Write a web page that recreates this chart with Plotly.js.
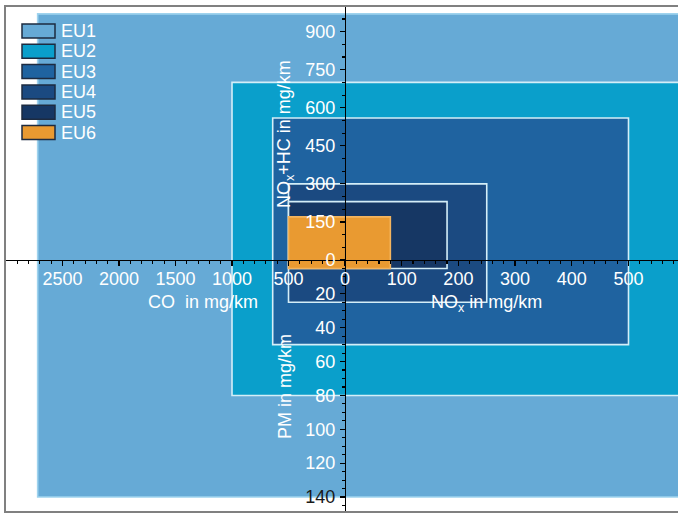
<!DOCTYPE html>
<html>
<head>
<meta charset="utf-8">
<script src="https://cdn.plot.ly/plotly-3.0.1.min.js"></script>
<style>
  html, body { margin: 0; padding: 0; background: #ffffff; }
  #chart { width: 678px; height: 514px; }
</style>
</head>
<body>
<div id="chart"></div>
<script>
// Euro emission stages for diesel passenger cars, limits in mg/km
const stages      = ['EU1', 'EU2', 'EU3', 'EU4', 'EU5', 'EU6'];
const coLimits    = [2720, 1000, 640, 500, 500, 500];   // CO
const noxLimits   = [null, null, 500, 250, 180, 80];    // NOx (no separate limit for EU1/EU2)
const hcNoxLimits = [970, 700, 560, 300, 230, 170];     // NOx + HC
const pmLimits    = [140, 80, 50, 25, 5, 5];            // PM

// tick labels for the four half-axes
const coTicks    = [500, 1000, 1500, 2000, 2500];
const noxTicks   = [0, 100, 200, 300, 400, 500];
const hcNoxTicks = [0, 150, 300, 450, 600, 750, 900];
const pmTicks    = [20, 40, 60, 80, 100, 120, 140];

const stageFill = ['#66aad6', '#0a9fcb', '#1f63a0', '#1b4a81', '#163764', '#e99a31'];
const stageEdge = ['#9fd3ee', '#d4eef8', '#d4eef8', '#d4eef8', '#d4eef8', '#f3b45e'];

const FONT = 'Liberation Sans, Arial, sans-serif';

// Each half-axis keeps its own scale; the four axes cross at the centre.
const CO_RANGE    = [3009, -2947];
const NOX_RANGE   = [-599.6, 587.3];
const HCNOX_RANGE = [-993.3, 1001.2];
const PM_RANGE    = [148.85, -150.0];
const X_AXIS_POS  = 0.49802;   // paper height of the horizontal axis
const Y_AXIS_POS  = 0.50520;   // paper width of the vertical axis

function minorTicks(step, last, majors) {
  const out = [];
  for (let v = step; v <= last + 1e-9; v += step) {
    if (!majors.some(m => Math.abs(m - v) < 1e-6)) out.push(v);
  }
  return out;
}

const NOX_OPEN = NOX_RANGE[1] * 1.1;   // stages without a NOx limit run off the right edge

const quadrants = [
  { xa: 'x',  ya: 'y',  xv: coLimits,  yv: hcNoxLimits },
  { xa: 'x2', ya: 'y',  xv: noxLimits, yv: hcNoxLimits },
  { xa: 'x',  ya: 'y2', xv: coLimits,  yv: pmLimits },
  { xa: 'x2', ya: 'y2', xv: noxLimits, yv: pmLimits }
];

const traces = [];
stages.forEach((name, i) => {
  quadrants.forEach(q => {
    const X = q.xv[i] === null ? NOX_OPEN : q.xv[i];
    const Y = q.yv[i];
    traces.push({
      type: 'scatter', mode: 'lines', name: name, showlegend: false, hoverinfo: 'skip',
      xaxis: q.xa, yaxis: q.ya,
      x: [0, X, X, 0, 0], y: [0, 0, Y, Y, 0],
      fill: 'toself', fillcolor: stageFill[i],
      line: { width: 0, color: stageFill[i] }
    });
  });
  quadrants.forEach(q => {
    const X = q.xv[i] === null ? NOX_OPEN : q.xv[i];
    const Y = q.yv[i];
    traces.push({
      type: 'scatter', mode: 'lines', name: name, showlegend: false, hoverinfo: 'skip',
      xaxis: q.xa, yaxis: q.ya,
      x: [X, X, 0], y: [0, Y, Y],
      line: { width: 1.6, color: stageEdge[i] }
    });
  });
});

const tickFont = { family: FONT, size: 18, color: '#ffffff' };
function axisBase(range, vals, text, minorVals) {
  return {
    range: range, fixedrange: true, showgrid: false, zeroline: false, automargin: false,
    tickmode: 'array', tickvals: vals, ticktext: text,
    ticks: 'outside', ticklen: 5, tickwidth: 1.2, tickcolor: '#000000',
    tickfont: tickFont, ticklabelstandoff: 1,
    minor: { tickmode: 'array', tickvals: minorVals, ticks: 'outside', ticklen: 2.5, tickwidth: 1.1, tickcolor: '#000000' }
  };
}

const xaxis = Object.assign(axisBase(CO_RANGE, coTicks, coTicks.map(String),
  minorTicks(100, 2900, coTicks)), {
  anchor: 'free', position: X_AXIS_POS, side: 'bottom', ticklabelstandoff: -3,
  showline: true, linecolor: '#000000', linewidth: 1.2
});
const xaxis2 = Object.assign(axisBase(NOX_RANGE, noxTicks, noxTicks.map(String),
  minorTicks(20, 580, noxTicks)), {
  overlaying: 'x', anchor: 'free', position: X_AXIS_POS, side: 'bottom', ticklabelstandoff: -3,
  showline: false
});
const yaxis = Object.assign(axisBase(HCNOX_RANGE, hcNoxTicks, hcNoxTicks.map(String),
  minorTicks(50, 950, hcNoxTicks)), {
  anchor: 'free', position: Y_AXIS_POS, side: 'left',
  showline: true, linecolor: '#000000', linewidth: 1.2
});
const yaxis2 = Object.assign(axisBase(PM_RANGE, pmTicks,
  pmTicks.map(v => v === 140 ? '<span style="color:#1a1a1a">140</span>' : String(v)),
  minorTicks(5, 145, pmTicks)), {
  overlaying: 'y', anchor: 'free', position: Y_AXIS_POS, side: 'left', showline: false
});

// pixel helpers for the frame: plot area spans x 5..678, y 6..512
const PX = px => (px - 5) / 673;
const PY = py => (512 - py) / 506;

const titleFont = { family: FONT, size: 18, color: '#ffffff' };
const annotations = [
  { text: 'CO\u00a0 in mg/km', x: PX(203), y: PY(302), xref: 'paper', yref: 'paper',
    showarrow: false, font: titleFont, xanchor: 'center', yanchor: 'middle' },
  { text: 'NO<sub>x</sub> in mg/km', x: PX(486), y: PY(304), xref: 'paper', yref: 'paper',
    showarrow: false, font: titleFont, xanchor: 'center', yanchor: 'middle' },
  { text: 'NO<sub>x</sub>+HC in mg/km', x: PX(285), y: PY(134), xref: 'paper', yref: 'paper',
    showarrow: false, font: titleFont, textangle: -90, xanchor: 'center', yanchor: 'middle' },
  { text: 'PM in mg/km', x: PX(285), y: PY(387), xref: 'paper', yref: 'paper',
    showarrow: false, font: titleFont, textangle: -90, xanchor: 'center', yanchor: 'middle' }
];

const shapes = [
  // outer frame
  { type: 'rect', xref: 'paper', yref: 'paper', x0: 0, x1: 1.02, y0: 0, y1: 1,
    line: { color: '#808080', width: 2 }, fillcolor: 'rgba(0,0,0,0)', layer: 'above' }
];

// legend: colour key boxes with stage names
stages.forEach((name, i) => {
  const top = 24 + 20.3 * i;
  shapes.push({
    type: 'rect', xref: 'paper', yref: 'paper',
    x0: PX(22), x1: PX(55), y0: PY(top + 14), y1: PY(top),
    fillcolor: stageFill[i], line: { color: '#1d2b40', width: 1.5 }, layer: 'above'
  });
  annotations.push({
    text: name, x: PX(59), y: PY(top + 7), xref: 'paper', yref: 'paper',
    showarrow: false, xanchor: 'left', yanchor: 'middle',
    font: { family: FONT, size: 18, color: '#ffffff' }
  });
});

const layout = {
  width: 678, height: 514,
  margin: { l: 5, r: 0, t: 6, b: 2, pad: 0 },
  paper_bgcolor: '#ffffff', plot_bgcolor: 'rgba(0,0,0,0)',
  showlegend: false,
  xaxis: xaxis, xaxis2: xaxis2, yaxis: yaxis, yaxis2: yaxis2,
  annotations: annotations, shapes: shapes
};

Plotly.newPlot('chart', traces, layout, { displayModeBar: false, staticPlot: true });
</script>
</body>
</html>
